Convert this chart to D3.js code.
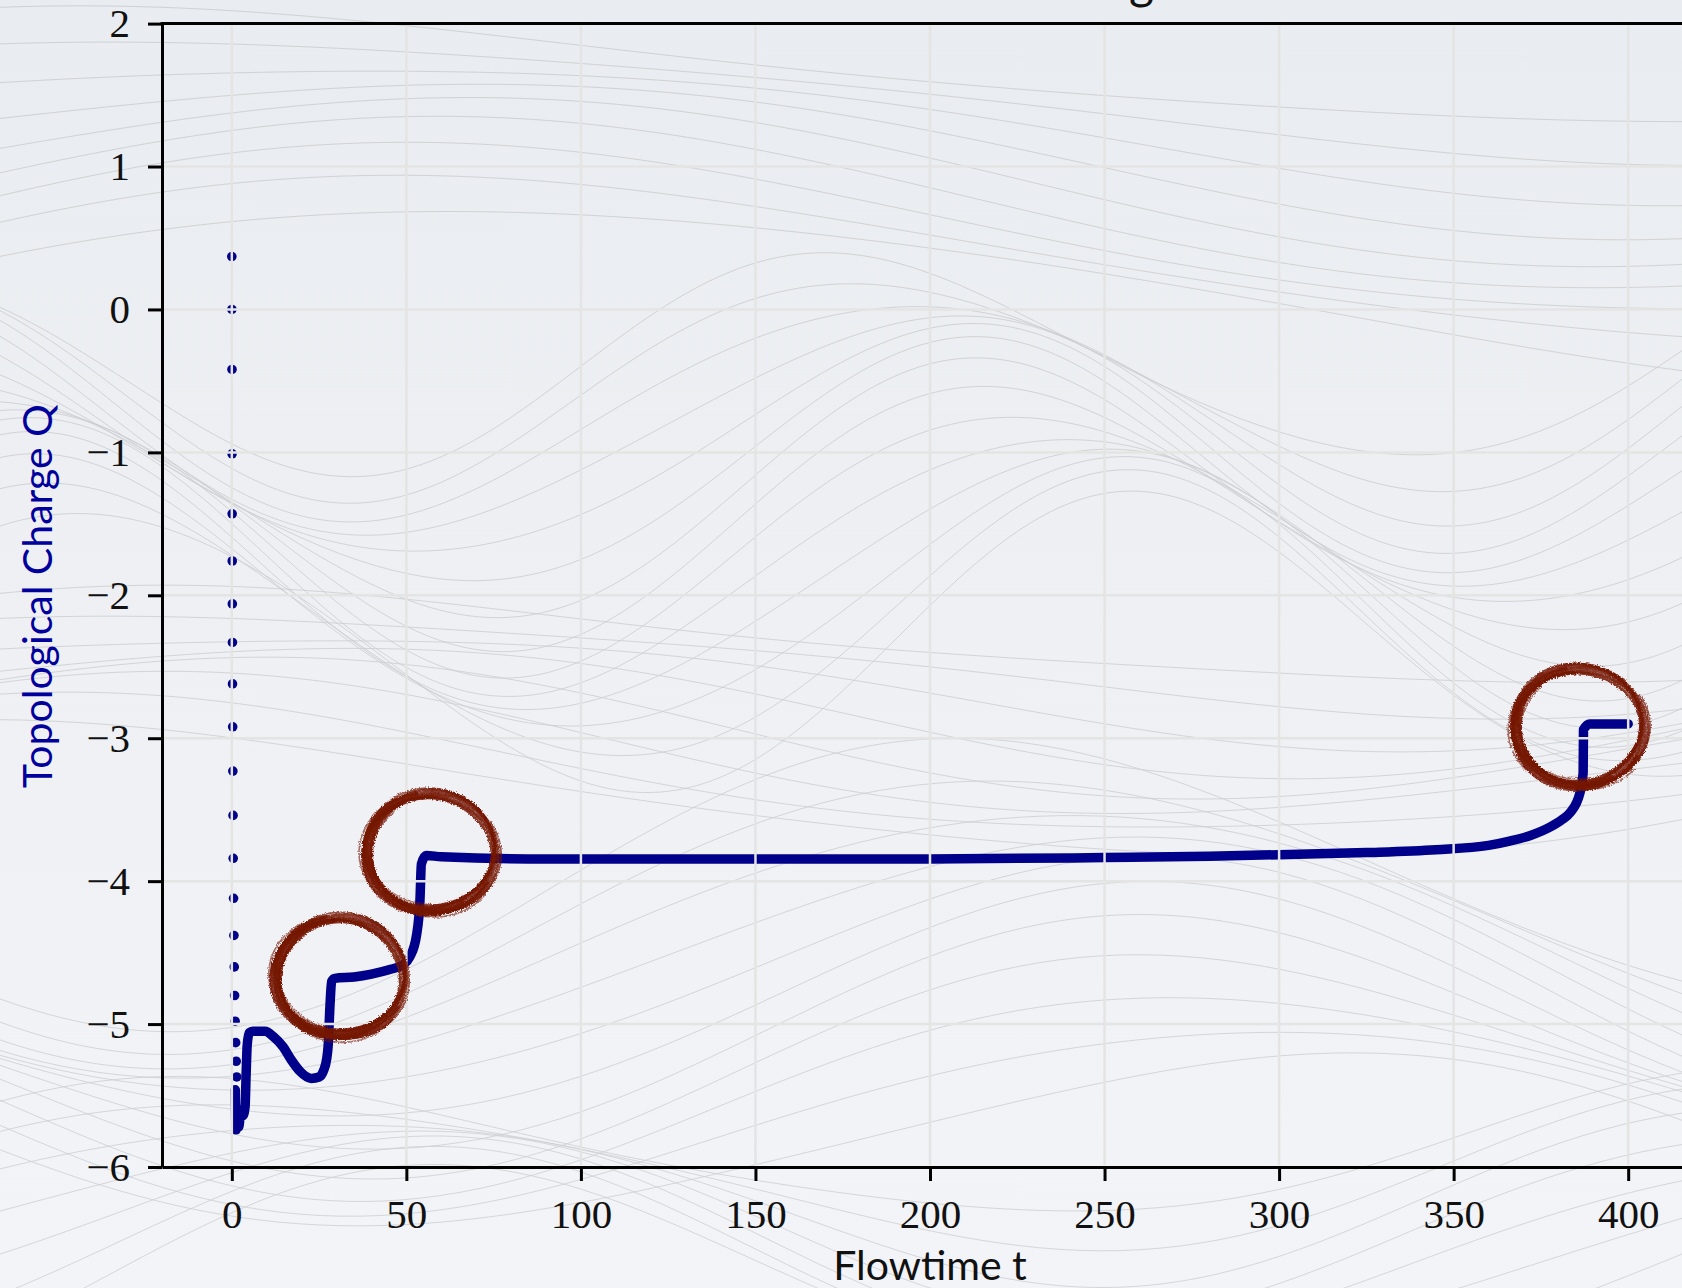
<!DOCTYPE html>
<html>
<head>
<meta charset="utf-8">
<title>Topological Charge</title>
<script src="https://cdn.jsdelivr.net/npm/d3@7"></script>
<style>
  body { margin: 0; overflow: hidden; background: #eef0f4; }
  svg { display: block; }
</style>
</head>
<body>
<svg id="chart"></svg>
<script>
var WIDTH = 1682, HEIGHT = 1288;

// first flow steps, where Q still moves fast (single markers)
var earlyT = [0, 0.02, 0.05, 0.08, 0.1, 0.12, 0.15, 0.18, 0.2, 0.25, 0.3,
              0.35, 0.4, 0.5, 0.6, 0.7, 0.8, 0.95, 1.1, 1.25, 1.4];
var earlyQ = [0.37, 0.0, -0.42, -1.01, -1.43, -1.76, -2.06, -2.33, -2.62, -2.92, -3.23,
              -3.54, -3.84, -4.12, -4.38, -4.60, -4.80, -4.98, -5.13, -5.26, -5.37];

// rest of the flow (markers so dense they form a thick line)
var flowT = [1.0, 1.2, 1.6, 2.0, 2.6, 3.2, 3.8, 4.1, 4.4, 5.0,
             6, 9.5, 12, 14.7, 17, 19.5, 22.8, 25, 26.2, 27.2,
             27.6, 28.1, 28.6, 29.5, 35, 40, 45, 49, 51, 52.9,
             53.9, 54.3, 55.7, 60, 91, 150, 200, 250, 280, 300,
             325, 345, 360, 366, 372, 377.7, 381, 383.4, 386.2, 387.1,
             387.2, 389, 400];
var flowQ = [-5.46, -5.74, -5.62, -5.72, -5.60, -5.64, -5.58, -5.35, -5.15, -5.06,
             -5.05, -5.05, -5.09, -5.16, -5.25, -5.33, -5.38, -5.37, -5.33, -5.24,
             -5.15, -4.88, -4.70, -4.68, -4.67, -4.65, -4.62, -4.585, -4.53, -4.38,
             -4.13, -3.88, -3.82, -3.83, -3.845, -3.845, -3.845, -3.835, -3.825, -3.815,
             -3.80, -3.78, -3.75, -3.72, -3.68, -3.62, -3.57, -3.52, -3.38, -3.24,
             -2.94, -2.90, -2.90];

// hand drawn circles around the jumps
var markT = [31, 57, 386];
var markQ = [-4.67, -3.80, -2.92];

var xTicks = [0, 50, 100, 150, 200, 250, 300, 350, 400];
var yTicks = [-6, -5, -4, -3, -2, -1, 0, 1, 2];

var LEFT = 162, RIGHT = 1698, TOP = 23.6, BOTTOM = 1167;

var x = d3.scaleLinear().domain([-20, 420]).range([LEFT, RIGHT]);
var y = d3.scaleLinear().domain([-6, 2]).range([BOTTOM, TOP]);

var svg = d3.select('#chart').attr('width', WIDTH).attr('height', HEIGHT);
var defs = svg.append('defs');

var grad = defs.append('linearGradient').attr('id', 'bg')
    .attr('x1', 0).attr('y1', 0).attr('x2', 0).attr('y2', 1);
grad.append('stop').attr('offset', '0%').attr('stop-color', '#e9ecf0');
grad.append('stop').attr('offset', '100%').attr('stop-color', '#f3f4f8');

var brush = defs.append('filter').attr('id', 'brush')
    .attr('x', '-20%').attr('y', '-20%').attr('width', '140%').attr('height', '140%');
brush.append('feTurbulence').attr('type', 'fractalNoise')
    .attr('baseFrequency', 0.8).attr('numOctaves', 2).attr('seed', 3).attr('result', 'n');
brush.append('feDisplacementMap').attr('in', 'SourceGraphic').attr('in2', 'n')
    .attr('scale', 4).attr('xChannelSelector', 'R').attr('yChannelSelector', 'G');

defs.append('clipPath').attr('id', 'plot').append('rect')
    .attr('x', LEFT).attr('y', TOP).attr('width', RIGHT - LEFT).attr('height', BOTTOM - TOP);

svg.append('rect').attr('width', WIDTH).attr('height', HEIGHT).attr('fill', 'url(#bg)');

// decorative wavy background lines (crest = x of the high point of each wave)
var deco = svg.append('g').attr('fill', 'none').attr('stroke', '#ababab')
    .attr('stroke-width', 0.8).attr('opacity', 0.5);
var waveLine = d3.line().curve(d3.curveBasis);
var families = [
  {n: 9,  base: 70,  gap: 28, amp: 60,  ampStep: 4,  len: 2600, crest: 220,  drift: 40},
  {n: 14, base: 360, gap: 22, amp: 105, ampStep: 3,  len: 1050, crest: 860,  drift: 22},
  {n: 8,  base: 640, gap: 22, amp: 50,  ampStep: 3,  len: 2200, crest: 300,  drift: -30},
  {n: 11, base: 880, gap: 26, amp: 140, ampStep: -5, len: 1700, crest: 1000, drift: 28},
  {n: 7,  base: 1150, gap: 22, amp: 70, ampStep: 6,  len: 1500, crest: 250,  drift: 35}
];
families.forEach(function(f) {
  for (var i = 0; i < f.n; i++) {
    var pts = [];
    for (var px = -40; px <= WIDTH + 40; px += 20) {
      var ph = 2 * Math.PI * (px - f.crest - i * f.drift) / f.len;
      pts.push([px, f.base + i * f.gap - (f.amp + i * f.ampStep) * Math.cos(ph)
                + 14 * Math.sin(ph * 1.7 + i * 0.9)]);
    }
    deco.append('path').attr('d', waveLine(pts));
  }
});

// title (mostly above the visible area)
svg.append('text').attr('x', x(200)).attr('y', -1)
    .attr('text-anchor', 'middle').attr('font-family', 'Lato, sans-serif')
    .attr('font-size', 48).attr('fill', '#111').text('Evolution of the Charge');

// data
var data = svg.append('g').attr('clip-path', 'url(#plot)');
var flow = flowT.map(function(t, i) { return [t, flowQ[i]]; });
var flowLine = d3.line()
    .x(function(d) { return x(d[0]); })
    .y(function(d) { return y(d[1]); })
    .curve(d3.curveMonotoneX);
data.append('path')
    .attr('d', flowLine(flow))
    .attr('fill', 'none').attr('stroke', '#00008b').attr('stroke-width', 9.5)
    .attr('stroke-linecap', 'round').attr('stroke-linejoin', 'round');
data.selectAll('circle').data(earlyT).enter().append('circle')
    .attr('cx', function(d) { return x(d); })
    .attr('cy', function(d, i) { return y(earlyQ[i]); })
    .attr('r', 4.8).attr('fill', '#00008b');

// grid lines on top of the data
var grid = svg.append('g').attr('stroke', '#e4e4e2').attr('stroke-width', 2.5);
grid.selectAll('.gx').data(xTicks).enter().append('line')
    .attr('x1', function(d) { return x(d); }).attr('x2', function(d) { return x(d); })
    .attr('y1', TOP + 2).attr('y2', BOTTOM - 2);
grid.selectAll('.gy').data(yTicks.slice(1, -1)).enter().append('line')
    .attr('x1', LEFT + 2).attr('x2', RIGHT)
    .attr('y1', function(d) { return y(d); }).attr('y2', function(d) { return y(d); });

// axes
var xAxis = d3.axisBottom(x).tickValues(xTicks).tickSize(14).tickSizeOuter(0).tickPadding(18);
var yAxis = d3.axisLeft(y).tickValues(yTicks).tickSize(14).tickSizeOuter(0).tickPadding(18);

var gx = svg.append('g').attr('transform', 'translate(0,' + BOTTOM + ')').call(xAxis);
var gy = svg.append('g').attr('transform', 'translate(' + LEFT + ',0)').call(yAxis);
[gx, gy].forEach(function(g) {
  g.selectAll('path, line').attr('stroke', '#000').attr('stroke-width', 3);
  g.selectAll('text').attr('font-family', '"Liberation Serif", serif')
      .attr('font-size', 41).attr('fill', '#111');
});
svg.append('line').attr('x1', LEFT - 1.5).attr('x2', RIGHT).attr('y1', TOP).attr('y2', TOP)
    .attr('stroke', '#000').attr('stroke-width', 3);

// brush circles
var ring = svg.append('g').attr('filter', 'url(#brush)').attr('fill', 'none')
    .attr('stroke', '#741405').attr('stroke-linecap', 'round');
var strokes = [
  {dr: -5, a0: -40, sweep: 375, w: 2.6, o: 0.85},
  {dr: -3, a0: -55, sweep: 380, w: 3.0, o: 0.9},
  {dr: -1.5, a0: -35, sweep: 360, w: 2.2, o: 0.8},
  {dr: 0, a0: -60, sweep: 390, w: 3.2, o: 0.9},
  {dr: 1.5, a0: -45, sweep: 370, w: 2.4, o: 0.8},
  {dr: 3, a0: -50, sweep: 365, w: 2.8, o: 0.85},
  {dr: 4.5, a0: -30, sweep: 345, w: 1.8, o: 0.7},
  {dr: -4, a0: 20, sweep: 250, w: 3.0, o: 0.9},
  {dr: 2, a0: 30, sweep: 230, w: 3.4, o: 0.9},
  {dr: -2, a0: 60, sweep: 190, w: 3.2, o: 0.9},
  {dr: 5.5, a0: 40, sweep: 200, w: 1.6, o: 0.6},
  {dr: -6, a0: 80, sweep: 150, w: 1.4, o: 0.6}
];
var ringLine = d3.line().curve(d3.curveBasis);
markT.forEach(function(t, k) {
  var cx = x(t), cy = y(markQ[k]);
  strokes.forEach(function(s, j) {
    var pts = [];
    for (var a = s.a0; a <= s.a0 + s.sweep; a += 6) {
      var r = a * Math.PI / 180;
      var wob = 1 + 0.02 * Math.sin(r * 3 + j + k);
      pts.push([cx + (65 + s.dr) * wob * Math.cos(r), cy + (59 + s.dr) * wob * Math.sin(r)]);
    }
    ring.append('path').attr('d', ringLine(pts))
        .attr('stroke-width', s.w).attr('opacity', s.o);
  });
});

// axis labels
svg.append('text').attr('x', x(200)).attr('y', 1280).attr('text-anchor', 'middle')
    .attr('font-family', 'Lato, sans-serif').attr('font-size', 41).attr('fill', '#111')
    .text('Flowtime t');
svg.append('text').attr('transform', 'translate(52,596) rotate(-90)')
    .attr('text-anchor', 'middle').attr('font-family', 'Lato, sans-serif')
    .attr('font-size', 41).attr('fill', '#00009c').text('Topological Charge Q');
</script>
</body>
</html>
